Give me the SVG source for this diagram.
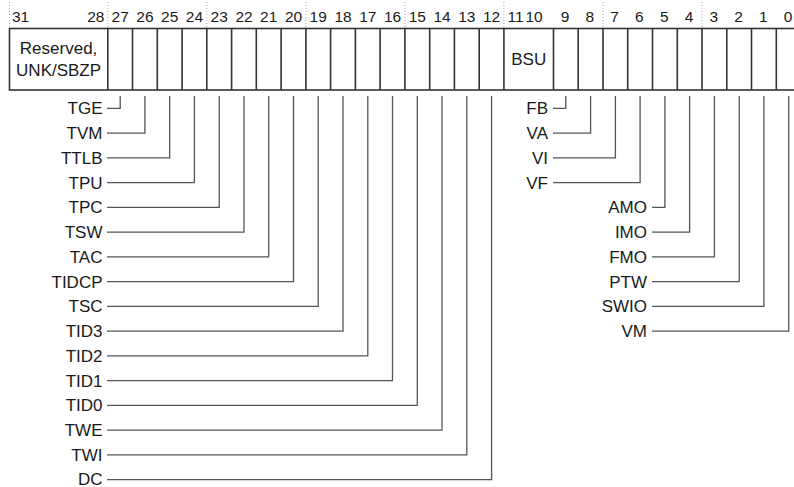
<svg xmlns="http://www.w3.org/2000/svg" width="794" height="487" viewBox="0 0 794 487">
<style>
text{font-family:"Liberation Sans",Arial,Helvetica,sans-serif;fill:#1a1a1a}
.num{font-size:15.5px;text-anchor:middle}
.lbl{font-size:17px;text-anchor:end}
.fld{font-size:17px;text-anchor:middle}
.box{fill:#fff;stroke:#333;stroke-width:1.6}
.div{stroke:#333;stroke-width:1.6;fill:none}
.dot{stroke:#aaa;stroke-width:1;stroke-dasharray:1 2;fill:none}
.lead{stroke:#555;stroke-width:1.3;fill:none}
</style>
<rect width="794" height="487" fill="#fff"/>
<g id="nibble-ticks">
<path class="dot" d="M9.5 2V28M107.8 2V28M206.8 2V28M305.9 2V28M404.9 2V28M503.9 2V28M603 2V28M702 2V28"/>
</g>
<g id="bit-numbers">
<text class="num" x="12" y="22" style="text-anchor:start">31</text>
<text class="num" x="104.5" y="22" style="text-anchor:end">28</text>
<text class="num" x="120.2" y="22">27</text>
<text class="num" x="144.9" y="22">26</text>
<text class="num" x="169.7" y="22">25</text>
<text class="num" x="194.4" y="22">24</text>
<text class="num" x="219.2" y="22">23</text>
<text class="num" x="244" y="22">22</text>
<text class="num" x="268.7" y="22">21</text>
<text class="num" x="293.5" y="22">20</text>
<text class="num" x="318.2" y="22">19</text>
<text class="num" x="343" y="22">18</text>
<text class="num" x="367.8" y="22">17</text>
<text class="num" x="392.5" y="22">16</text>
<text class="num" x="417.3" y="22">15</text>
<text class="num" x="442" y="22">14</text>
<text class="num" x="466.8" y="22">13</text>
<text class="num" x="491.6" y="22">12</text>
<text class="num" x="515.5" y="22">11</text>
<text class="num" x="534" y="22">10</text>
<text class="num" x="565" y="22">9</text>
<text class="num" x="589.8" y="22">8</text>
<text class="num" x="614.6" y="22">7</text>
<text class="num" x="639.4" y="22">6</text>
<text class="num" x="664.2" y="22">5</text>
<text class="num" x="689" y="22">4</text>
<text class="num" x="713.8" y="22">3</text>
<text class="num" x="738.6" y="22">2</text>
<text class="num" x="763.3" y="22">1</text>
<text class="num" x="788.1" y="22">0</text>
</g>
<g id="register">
<rect class="box" x="9.5" y="28.5" width="792" height="61.5"/>
<path class="div" d="M107.8 28.5V90M132.5 28.5V90M157.3 28.5V90M182.1 28.5V90M206.8 28.5V90M231.6 28.5V90M256.3 28.5V90M281.1 28.5V90M305.9 28.5V90M330.6 28.5V90M355.4 28.5V90M380.1 28.5V90M404.9 28.5V90M429.7 28.5V90M454.4 28.5V90M479.2 28.5V90M503.9 28.5V90M553.5 28.5V90M578.2 28.5V90M603 28.5V90M627.7 28.5V90M652.5 28.5V90M677.3 28.5V90M702 28.5V90M726.8 28.5V90M751.5 28.5V90M776.3 28.5V90"/>
<text class="fld" x="58.6" y="54.2">Reserved,</text>
<text class="fld" x="58.6" y="76.2">UNK/SBZP</text>
<text class="fld" x="528.7" y="65.2">BSU</text>
</g>
<g id="connectors">
<path class="lead" d="M107 108.3H120.2V96"/>
<path class="lead" d="M107 133.1H144.9V96"/>
<path class="lead" d="M107 157.8H169.7V96"/>
<path class="lead" d="M107 182.6H194.4V96"/>
<path class="lead" d="M107 207.3H219.2V96"/>
<path class="lead" d="M107 232.1H244V96"/>
<path class="lead" d="M107 256.9H268.7V96"/>
<path class="lead" d="M107 281.6H293.5V96"/>
<path class="lead" d="M107 306.4H318.2V96"/>
<path class="lead" d="M107 331.1H343V96"/>
<path class="lead" d="M107 355.9H367.8V96"/>
<path class="lead" d="M107 380.7H392.5V96"/>
<path class="lead" d="M107 405.4H417.3V96"/>
<path class="lead" d="M107 430.2H442V96"/>
<path class="lead" d="M107 454.9H466.8V96"/>
<path class="lead" d="M107 479.7H491.6V96"/>
<path class="lead" d="M553 108.3H565.8V96"/>
<path class="lead" d="M553 133.1H590.6V96"/>
<path class="lead" d="M553 157.8H615.4V96"/>
<path class="lead" d="M553 182.6H640.1V96"/>
<path class="lead" d="M652 207.3H664.9V96"/>
<path class="lead" d="M652 232.1H689.6V96"/>
<path class="lead" d="M652 256.9H714.4V96"/>
<path class="lead" d="M652 281.6H739.2V96"/>
<path class="lead" d="M652 306.4H763.9V96"/>
<path class="lead" d="M652 331.1H788.7V96"/>
</g>
<g id="TGE"><text class="lbl" x="102.5" y="114.3">TGE</text></g>
<g id="TVM"><text class="lbl" x="102.5" y="139.1">TVM</text></g>
<g id="TTLB"><text class="lbl" x="102.5" y="163.8">TTLB</text></g>
<g id="TPU"><text class="lbl" x="102.5" y="188.6">TPU</text></g>
<g id="TPC"><text class="lbl" x="102.5" y="213.3">TPC</text></g>
<g id="TSW"><text class="lbl" x="102.5" y="238.1">TSW</text></g>
<g id="TAC"><text class="lbl" x="102.5" y="262.9">TAC</text></g>
<g id="TIDCP"><text class="lbl" x="102.5" y="287.6">TIDCP</text></g>
<g id="TSC"><text class="lbl" x="102.5" y="312.4">TSC</text></g>
<g id="TID3"><text class="lbl" x="102.5" y="337.1">TID3</text></g>
<g id="TID2"><text class="lbl" x="102.5" y="361.9">TID2</text></g>
<g id="TID1"><text class="lbl" x="102.5" y="386.7">TID1</text></g>
<g id="TID0"><text class="lbl" x="102.5" y="411.4">TID0</text></g>
<g id="TWE"><text class="lbl" x="102.5" y="436.2">TWE</text></g>
<g id="TWI"><text class="lbl" x="102.5" y="460.9">TWI</text></g>
<g id="DC"><text class="lbl" x="102.5" y="484.6">DC</text></g>
<g id="FB"><text class="lbl" x="548" y="114.3">FB</text></g>
<g id="VA"><text class="lbl" x="548" y="139.1">VA</text></g>
<g id="VI"><text class="lbl" x="548" y="163.8">VI</text></g>
<g id="VF"><text class="lbl" x="548" y="188.6">VF</text></g>
<g id="AMO"><text class="lbl" x="647" y="213.3">AMO</text></g>
<g id="IMO"><text class="lbl" x="647" y="238.1">IMO</text></g>
<g id="FMO"><text class="lbl" x="647" y="262.9">FMO</text></g>
<g id="PTW"><text class="lbl" x="647" y="287.6">PTW</text></g>
<g id="SWIO"><text class="lbl" x="647" y="312.4">SWIO</text></g>
<g id="VM"><text class="lbl" x="647" y="337.1">VM</text></g>
</svg>
